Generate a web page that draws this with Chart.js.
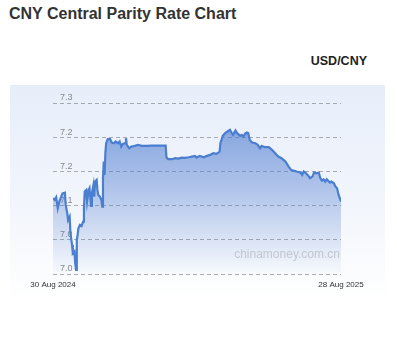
<!DOCTYPE html>
<html>
<head>
<meta charset="utf-8">
<script src="https://cdn.jsdelivr.net/npm/chart.js@4.4.1/dist/chart.umd.min.js"></script>
<style>
  html, body { margin: 0; padding: 0; background: #ffffff; width: 397px; height: 359px; overflow: hidden; }
  body { position: relative; font-family: "Liberation Sans", Arial, sans-serif; }
  #title { position: absolute; left: 9px; top: 6px; font-size: 16px; line-height: 16px; font-weight: bold; color: #333; white-space: nowrap; }
  #pair { position: absolute; right: 30px; top: 54px; font-size: 12.5px; line-height: 14px; font-weight: bold; color: #222; white-space: nowrap; }
  #panel { position: absolute; left: 10px; top: 85px; width: 375px; height: 215px;
           background: linear-gradient(to bottom, #e7eefa 0%, #f3f6fc 60%, #ffffff 100%); }
  #wm { position: absolute; right: 57px; top: 247px; font-size: 12px; line-height: 14px; color: #c3c7cf; white-space: nowrap; }
  #c { position: absolute; left: 0; top: 0; }
</style>
</head>
<body>
<div id="title">CNY Central Parity Rate Chart</div>
<div id="pair">USD/CNY</div>
<div id="panel"></div>
<canvas id="c" width="397" height="359"></canvas>
<div id="wm">chinamoney.com.cn</div>
<script>
// Days since 30 Aug 2024
const days = [0,2,4,6,8,12,15,16,18,19,21,22,24,25,27,28,29,30,31,32,34,36,38,39,40,42,43,45,46,48,49,51,52,53,55,56,57,59,61,62,63,64,65,66,67,69,72,74,77,79,82,84,86,88,91,92,93,96,99,103,107,112,118,124,131,137,142,143,145,150,154,158,162,166,171,175,179,181,185,190,194,198,202,206,210,211,214,217,220,223,225,227,230,232,236,238,240,242,244,246,248,251,255,258,261,263,267,272,276,280,284,288,293,297,300,303,307,312,314,316,319,322,324,327,329,332,335,337,339,341,343,345,349,351,354,356,358,360,363];
// USD/CNY central parity rate
const rates = [7.1107,7.1083,7.1122,7.0961,7.1059,7.1180,7.1190,7.1010,7.0888,7.0790,7.0839,7.0595,7.0424,7.0302,7.0327,7.0156,7.0059,7.0498,7.0571,7.0668,7.0717,7.0702,7.0766,7.0961,7.1205,7.1229,7.1059,7.1229,7.1254,7.0995,7.1180,7.1302,7.1132,7.1351,7.1376,7.1229,7.1156,7.1132,7.1083,7.0985,7.1400,7.1644,7.1449,7.1766,7.1912,7.1971,7.1971,7.1922,7.1912,7.1937,7.1912,7.1937,7.1863,7.1902,7.1912,7.1985,7.1888,7.1839,7.1863,7.1873,7.1888,7.1873,7.1873,7.1878,7.1878,7.1878,7.1878,7.1707,7.1678,7.1678,7.1693,7.1688,7.1702,7.1698,7.1707,7.1717,7.1727,7.1702,7.1727,7.1707,7.1727,7.1741,7.1766,7.1756,7.1790,7.1912,7.2020,7.2059,7.2083,7.2107,7.2068,7.2034,7.2098,7.2059,7.2020,7.2034,7.2010,7.2049,7.2068,7.2059,7.1961,7.1922,7.1912,7.1888,7.1839,7.1873,7.1854,7.1854,7.1815,7.1766,7.1717,7.1693,7.1644,7.1571,7.1522,7.1512,7.1498,7.1483,7.1449,7.1498,7.1473,7.1434,7.1400,7.1424,7.1483,7.1473,7.1483,7.1400,7.1366,7.1385,7.1351,7.1385,7.1337,7.1351,7.1327,7.1278,7.1254,7.1156,7.1059];
// Axis labels
const xTickDays = [0, 363];
const xTickLabels = ["30 Aug 2024", "28 Aug 2025"];
const yMin = 7.0, yMax = 7.25, yStep = 0.05;

const points = days.map((d, i) => ({ x: d, y: rates[i] }));

new Chart(document.getElementById('c'), {
  type: 'line',
  data: {
    datasets: [{
      data: points,
      borderColor: '#4a7ed0',
      borderWidth: 2.2,
      pointRadius: 0,
      tension: 0,
      fill: 'start',
      backgroundColor: (ctx) => {
        const a = ctx.chart.chartArea;
        if (!a) return 'rgba(70,120,205,0.3)';
        const g = ctx.chart.ctx.createLinearGradient(0, a.top, 0, a.bottom);
        g.addColorStop(0, 'rgba(70,118,205,0.7)');
        g.addColorStop(0.5, 'rgba(70,118,205,0.38)');
        g.addColorStop(1, 'rgba(70,118,205,0.02)');
        return g;
      }
    }]
  },
  options: {
    responsive: false,
    devicePixelRatio: 1,
    animation: false,
    layout: { padding: { left: 53, right: 56, top: 103, bottom: 65 } },
    plugins: { legend: { display: false }, tooltip: { enabled: false } },
    scales: {
      x: {
        type: 'linear',
        min: xTickDays[0],
        max: xTickDays[1],
        grid: { display: false },
        border: { display: false },
        afterBuildTicks: (s) => { s.ticks = xTickDays.map(v => ({ value: v })); },
        afterFit: (s) => { s.height = 20; },
        ticks: {
          autoSkip: false,
          maxRotation: 0,
          padding: -2,
          color: '#333',
          font: { family: '"Liberation Sans", Arial, sans-serif', size: 8 },
          callback: (v) => { const i = xTickDays.indexOf(v); return i >= 0 ? xTickLabels[i] : ''; }
        }
      },
      y: {
        type: 'linear',
        min: yMin,
        max: yMax,
        afterFit: (s) => { s.width = 0; },
        grid: { color: 'rgba(110,110,110,0.55)', lineWidth: 1, drawTicks: false },
        border: { display: false, dash: [4, 3] },
        ticks: {
          stepSize: yStep,
          mirror: true,
          padding: 7,
          labelOffset: -5,
          color: '#888',
          font: { family: '"Liberation Sans", Arial, sans-serif', size: 9 },
          callback: (v) => Number(v).toFixed(1)
        }
      }
    }
  }
});
</script>
</body>
</html>
